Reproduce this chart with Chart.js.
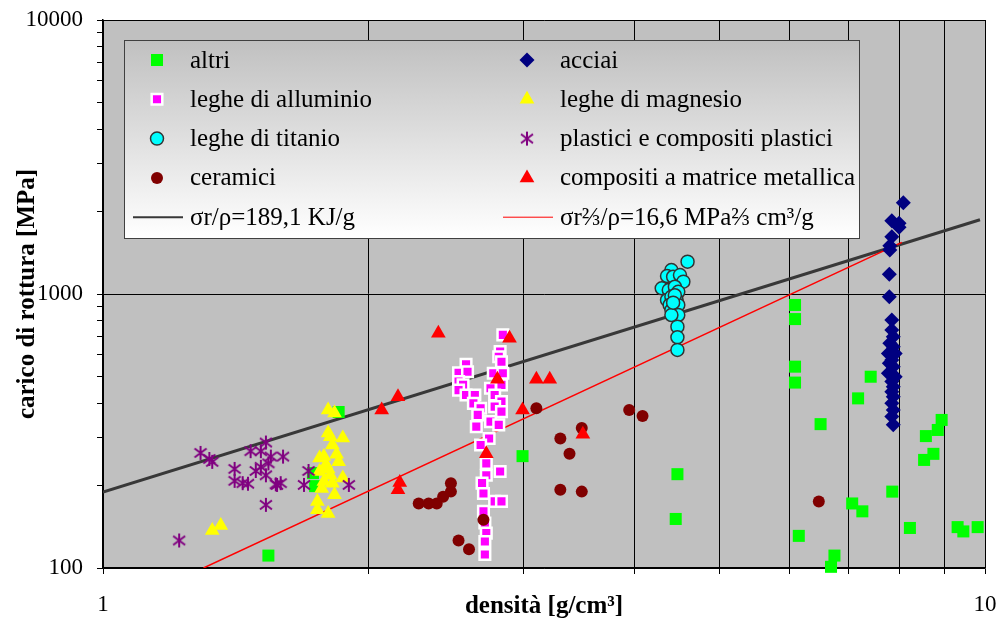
<!DOCTYPE html>
<html>
<head>
<meta charset="utf-8">
<script src="https://cdn.jsdelivr.net/npm/chart.js@4.4.0/dist/chart.umd.min.js"></script>
<style>
  html, body { margin: 0; padding: 0; background: #fff; }
  #wrap { width: 1000px; height: 626px; position: relative; }
</style>
</head>
<body>
<div id="wrap"><canvas id="chart"></canvas></div>
<script>
// axis ticks
const xTicks = [1, 2, 3, 4, 5, 6, 7, 8, 9, 10];
const xTickLabels = [1, 10];
const yTicks = [100, 200, 300, 400, 500, 600, 700, 800, 900,
                1000, 2000, 3000, 4000, 5000, 6000, 7000, 8000, 9000, 10000];
const yTickLabels = [100, 1000, 10000];

// series: [densità, carico di rottura]
const altri = [[1.54,111],[1.73,222],[1.74,199],[1.85,371],[2.99,256],[6.09,912],[6.09,810],
  [6.09,543],[6.09,475],[4.48,220],[4.46,151],[6.51,335],[7.42,499],[7.18,416],[8.93,347],
  [8.84,319],[8.57,303],[8.74,261],[8.53,248],[7.85,190],[7.07,172],[7.26,161],[6.15,131],
  [8.22,140],[6.75,111],[6.69,101],[9.31,141],[9.45,136],[9.81,141]];
const acciai = [[8.08,2154],[7.84,1852],[7.99,1811],[7.99,1751],[7.84,1619],[7.80,1500],
  [7.80,1447],[7.79,1180],[7.79,977],[7.84,804],[7.84,739],[7.87,698],[7.80,661],[7.87,642],
  [7.77,607],[7.91,607],[7.84,574],[7.79,559],[7.87,543],[7.77,514],[7.91,499],[7.84,479],
  [7.87,459],[7.84,440],[7.87,422],[7.84,399],[7.87,377],[7.84,357],[7.87,333]];
const alluminio = [[2.84,709],[2.82,616],[2.81,590],[2.83,566],[2.58,554],[2.53,516],[2.59,520],
  [2.53,479],[2.56,466],[2.53,446],[2.58,428],[2.64,428],[2.63,399],[2.68,383],[2.66,362],
  [2.65,328],[2.77,514],[2.84,514],[2.83,466],[2.75,453],[2.78,428],[2.83,405],[2.78,388],
  [2.83,372],[2.75,342],[2.81,333],[2.74,297],[2.68,281],[2.72,241],[2.82,225],[2.72,218],
  [2.69,204],[2.70,187],[2.78,175],[2.83,175],[2.70,161],[2.71,146],[2.72,134],[2.71,125],[2.71,112]];
const magnesio = [[1.80,377],[1.83,368],[1.80,311],[1.81,301],[1.87,298],[1.82,281],[1.78,255],
  [1.85,244],[1.79,238],[1.76,225],[1.81,218],[1.87,213],[1.78,207],[1.82,204],[1.75,175],
  [1.83,185],[1.75,163],[1.80,158],[1.33,137],[1.36,143],[1.76,252],[1.80,230],[1.84,260],[1.77,195]];
const titanio = [[4.60,1312],[4.41,1223],[4.36,1163],[4.43,1156],[4.51,1173],[4.55,1109],
  [4.30,1049],[4.38,1034],[4.45,1063],[4.49,1019],[4.36,951],[4.41,977],[4.47,951],[4.39,912],
  [4.49,912],[4.41,874],[4.49,838],[4.41,838],[4.48,760],[4.48,695],[4.48,625],[4.45,990],[4.43,930]];
const plastici = [[1.22,126],[1.29,263],[1.32,250],[1.33,244],[1.41,230],[1.47,267],[1.51,267],
  [1.53,287],[1.41,208],[1.44,204],[1.46,203],[1.49,226],[1.51,234],[1.54,241],[1.55,255],
  [1.60,255],[1.53,218],[1.57,202],[1.59,204],[1.575,201],[1.53,170],[1.71,226],[1.69,201],[1.90,201]];
const ceramici = [[3.10,383],[3.49,324],[3.30,297],[3.38,261],[3.30,193],[3.49,190],[2.48,204],
  [2.48,190],[2.43,182],[2.39,172],[2.34,172],[2.28,172],[2.70,150],[2.53,126],[2.60,117],
  [4.09,359],[3.95,377],[6.48,175]];
const compositi = [[2.40,719],[2.89,689],[2.16,422],[2.07,377],[2.80,488],[3.10,489],[3.21,489],
  [2.99,377],[3.50,308],[2.72,261],[2.17,205],[2.16,193]];
const rettaSpecifica = [[1, 189.1], [9.87, 1866]];
const rettaFlessione = [[1.3, 100], [8.05, 1544]];

const pts = arr => arr.map(p => ({ x: p[0], y: p[1] }));

function makeStar() {
  const c = document.createElement('canvas');
  c.width = 16; c.height = 16;
  const g = c.getContext('2d');
  g.strokeStyle = '#800080';
  g.lineWidth = 2;
  g.beginPath();
  g.moveTo(8, 1); g.lineTo(8, 15);
  g.moveTo(2, 3.5); g.lineTo(14, 12.5);
  g.moveTo(2, 12.5); g.lineTo(14, 3.5);
  g.stroke();
  return c;
}
const star = makeStar();

function marker(label, data, style, radius, fill, border, bw, order) {
  return {
    label: label, data: pts(data), order: order, clip: false,
    pointStyle: style, pointRadius: radius, pointHoverRadius: radius,
    pointBackgroundColor: fill, pointBorderColor: border, pointBorderWidth: bw
  };
}

const datasets = [
  marker('altri', altri, 'rect', 8.5, '#00ff00', '#00ff00', 0, 9),
  marker('acciai', acciai, 'rectRot', 7.5, '#000080', '#000080', 0, 8),
  marker('leghe di alluminio', alluminio, 'rect', 7.5, '#ff00ff', '#ffffff', 2.5, 7),
  marker('leghe di magnesio', magnesio, 'triangle', 8.5, '#ffff00', '#ffff00', 0, 6),
  marker('leghe di titanio', titanio, 'circle', 6.5, '#00ffff', '#333333', 1.5, 5),
  marker('plastici e compositi plastici', plastici, star, 8, '#800080', '#800080', 0, 4),
  marker('ceramici', ceramici, 'circle', 6, '#800000', '#800000', 0, 3),
  marker('compositi a matrice metallica', compositi, 'triangle', 8.5, '#ff0000', '#ff0000', 0, 2),
  { label: 'σr/ρ=189,1 KJ/g', data: pts(rettaSpecifica), showLine: true, pointRadius: 0,
    borderColor: '#383838', borderWidth: 3, order: 11, isLine: true },
  { label: 'σr⅔/ρ=16,6 MPa⅔ cm³/g', data: pts(rettaFlessione), showLine: true, pointRadius: 0,
    borderColor: '#ff0000', borderWidth: 1.5, order: 10, isLine: true }
];

function drawMarker(ctx, ds, x, y) {
  const st = ds.pointStyle, r = ds.pointRadius;
  ctx.save();
  if (st instanceof HTMLCanvasElement) {
    ctx.drawImage(st, x - st.width / 2, y - st.height / 2);
    ctx.restore();
    return;
  }
  ctx.fillStyle = ds.pointBackgroundColor;
  ctx.strokeStyle = ds.pointBorderColor;
  ctx.beginPath();
  if (st === 'circle') {
    ctx.arc(x, y, r, 0, Math.PI * 2);
  } else if (st === 'rect') {
    const s = r * Math.SQRT1_2;
    ctx.rect(x - s, y - s, 2 * s, 2 * s);
  } else if (st === 'rectRot') {
    ctx.moveTo(x, y - r); ctx.lineTo(x + r, y); ctx.lineTo(x, y + r); ctx.lineTo(x - r, y);
    ctx.closePath();
  } else if (st === 'triangle') {
    ctx.moveTo(x, y - r);
    ctx.lineTo(x + r * 0.866, y + r / 2);
    ctx.lineTo(x - r * 0.866, y + r / 2);
    ctx.closePath();
  }
  ctx.fill();
  if (ds.pointBorderWidth > 0) {
    ctx.lineWidth = ds.pointBorderWidth;
    ctx.stroke();
  }
  ctx.restore();
}

// legend box inside the plot, two columns
const boxLegend = {
  id: 'boxLegend',
  afterDraw(chart) {
    const { ctx, chartArea } = chart;
    const left = chartArea.left + 21, top = chartArea.top + 20, w = 735, h = 198;
    ctx.save();
    const g = ctx.createLinearGradient(0, top, 0, top + h);
    g.addColorStop(0, '#c0c0c0');
    g.addColorStop(1, '#ffffff');
    ctx.fillStyle = g;
    ctx.fillRect(left, top, w, h);
    ctx.strokeStyle = '#404040';
    ctx.lineWidth = 1;
    ctx.strokeRect(left + 0.5, top + 0.5, w, h);
    ctx.font = '25px "Liberation Serif", "Times New Roman", serif';
    ctx.textBaseline = 'middle';
    ctx.fillStyle = '#000';
    chart.data.datasets.forEach((ds, i) => {
      const col = i % 2, row = Math.floor(i / 2);
      const mx = left + 33 + col * 370;
      const my = top + 20 + row * 39.3;
      if (ds.isLine) {
        ctx.strokeStyle = ds.borderColor;
        ctx.lineWidth = ds.borderWidth > 2 ? 2 : 1;
        ctx.beginPath();
        ctx.moveTo(mx - 24, my);
        ctx.lineTo(mx + 26, my);
        ctx.stroke();
      } else {
        drawMarker(ctx, ds, mx, my);
      }
      ctx.fillStyle = '#000';
      ctx.fillText(ds.label, mx + 33, my + 1);
    });
    ctx.restore();
  }
};

const plotBackground = {
  id: 'plotBackground',
  beforeDraw(chart) {
    const { ctx, chartArea: a } = chart;
    ctx.save();
    ctx.fillStyle = '#c0c0c0';
    ctx.fillRect(a.left, a.top, a.right - a.left, a.bottom - a.top);
    ctx.restore();
  }
};

Chart.defaults.font.family = '"Liberation Serif", "Times New Roman", serif';
Chart.defaults.color = '#000';

new Chart(document.getElementById('chart'), {
  type: 'scatter',
  data: { datasets: datasets },
  plugins: [plotBackground, boxLegend],
  options: {
    responsive: true,
    maintainAspectRatio: false,
    animation: false,
    events: [],
    layout: { padding: { left: 0, top: 20, right: 15, bottom: 0 } },
    plugins: { legend: { display: false }, tooltip: { enabled: false } },
    scales: {
      x: {
        type: 'logarithmic', min: 1, max: 10,
        afterBuildTicks: s => { s.ticks = xTicks.map(v => ({ value: v })); },
        afterFit: s => { s.height = 58; s.paddingLeft = 0; s.paddingRight = 0; },
        ticks: {
          autoSkip: false, maxRotation: 0, padding: 17,
          font: { size: 23 },
          callback: v => xTickLabels.includes(v) ? String(v) : ''
        },
        grid: { color: '#000', lineWidth: 1, tickLength: 6, tickColor: '#000' },
        border: { color: '#000', width: 1.5 },
        title: {
          display: true, text: 'densità [g/cm³]',
          font: { size: 25, weight: 'bold' }, padding: { top: 0, bottom: 4 }
        }
      },
      y: {
        type: 'logarithmic', min: 100, max: 10000,
        afterBuildTicks: s => { s.ticks = yTicks.map(v => ({ value: v })); },
        afterFit: s => { s.width = 103; s.paddingTop = 0; s.paddingBottom = 0; },
        ticks: {
          autoSkip: false, padding: 14,
          font: { size: 23 },
          callback: v => yTickLabels.includes(v) ? String(v) : ''
        },
        grid: {
          color: c => (c.tick && yTickLabels.includes(c.tick.value)) ? '#000' : 'rgba(0,0,0,0)',
          lineWidth: 1, tickLength: 6, tickColor: '#000'
        },
        border: { color: '#000', width: 1.5 },
        title: {
          display: true, text: 'carico di rottura [MPa]',
          font: { size: 25, weight: 'bold' }, padding: { top: 13, bottom: 0 }
        }
      }
    }
  }
});
</script>
</body>
</html>
